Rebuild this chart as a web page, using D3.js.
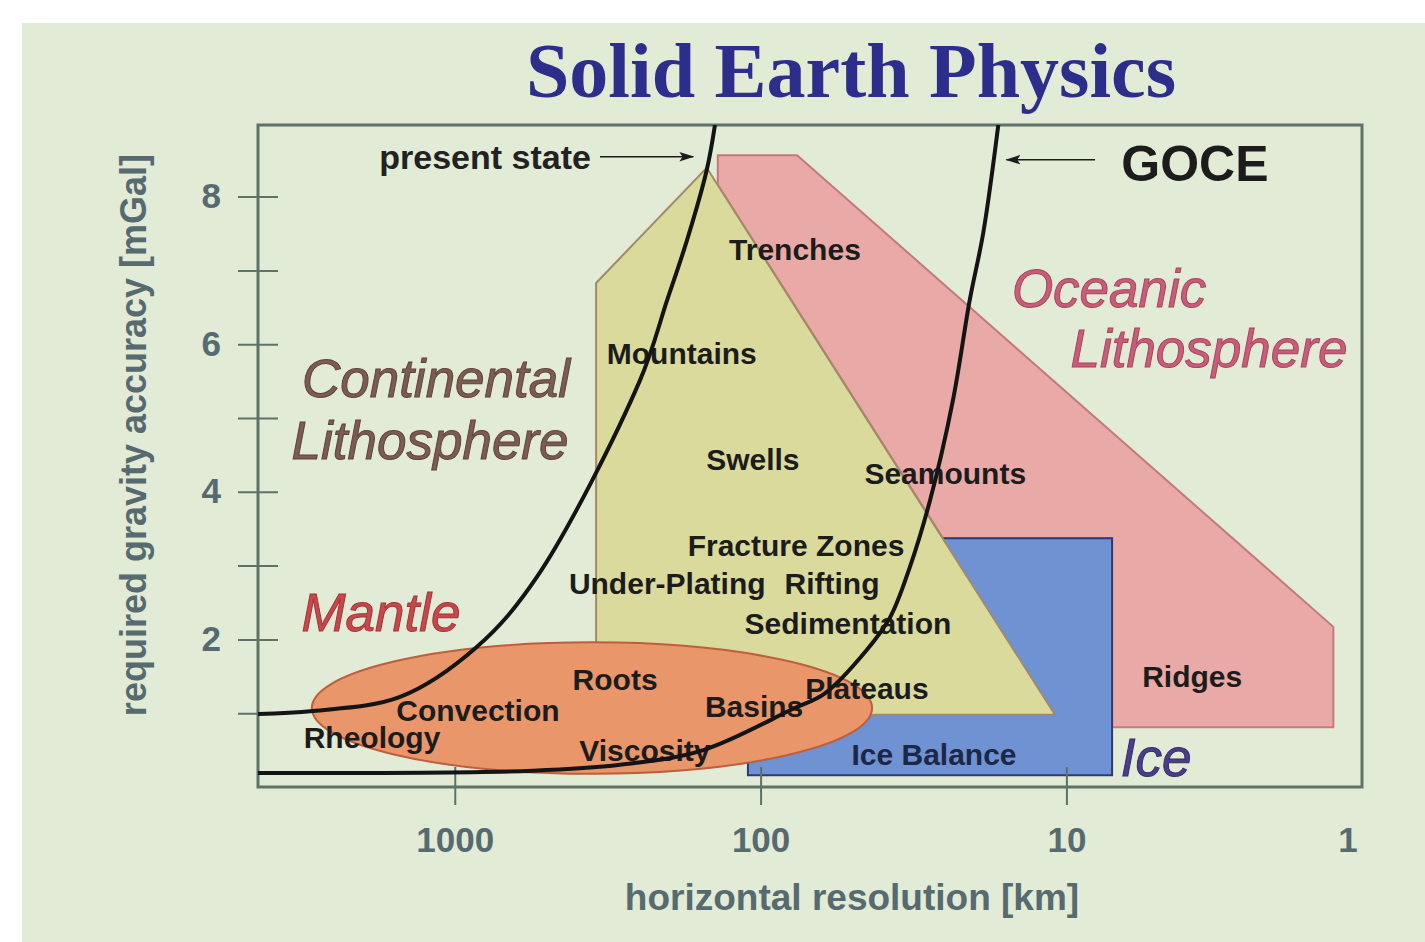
<!DOCTYPE html>
<html>
<head>
<meta charset="utf-8">
<script src="https://cdnjs.cloudflare.com/ajax/libs/d3/7.8.5/d3.min.js"></script>
<style>
  body { margin: 0; background: #fff; }
  text { font-family: 'Liberation Sans', Arial, sans-serif; }
</style>
</head>
<body>
<script>
var width = 1425;
var height = 942;
var margin = {top: 125, right: 63, bottom: 155, left: 258};
var plotW = width - margin.left - margin.right;
var plotH = height - margin.top - margin.bottom;

// axis ticks
var xTicks = [1000, 100, 10];
var xEndLabel = 1;
var yTicks = [1, 2, 3, 4, 5, 6, 7, 8];

// curves: [km, mGal]
var presentState = [[4400, 0.99], [2909, 1.03], [1510, 1.22], [846, 1.90], [538, 2.85],
  [248, 5.51], [202, 6.60], [174, 7.41], [150, 8.36], [141, 8.97]];
var goce = [[4400, 0.19], [555, 0.22], [288, 0.30], [154, 0.50], [78.3, 1.06], [61.6, 1.27],
  [44.9, 1.86], [37.7, 2.30], [32.5, 2.98], [27.9, 3.89], [23.5, 5.24], [20.7, 6.60],
  [18.7, 7.51], [16.7, 8.97]];

// regions: [km, mGal]
var oceanic = [[138, 8.56], [76, 8.56], [1.34, 2.17], [1.34, 0.81], [7.09, 0.81],
  [7.09, 3.37], [25.3, 3.37], [138, 8.16]];
var continental = [[345, 6.83], [150, 8.39], [10.9, 0.98], [345, 0.98]];
var ice = [[110, 3.37], [7.09, 3.37], [7.09, 0.16], [110, 0.16]];
var mantleCentre = [356, 1.07];
var mantleRadius = [0.916, 0.89]; // decades of km, mGal

// arrows
var presentArrow = [[335, 8.54], [166, 8.54]];
var goceArrow = [[8.06, 8.50], [15.7, 8.50]];

var labels = [
  {text: 'present state', km: 796, mgal: 8.54, group: 'present'},
  {text: 'GOCE', km: 3.80, mgal: 8.46, group: 'goce'},
  {text: 'Trenches', km: 77.2, mgal: 7.29, group: 'feature'},
  {text: 'Oceanic', km: 7.25, mgal: 6.76, group: 'oceanic'},
  {text: 'Lithosphere', km: 3.42, mgal: 5.95, group: 'oceanic'},
  {text: 'Continental', km: 1152, mgal: 5.54, group: 'continental'},
  {text: 'Lithosphere', km: 1205, mgal: 4.70, group: 'continental'},
  {text: 'Mountains', km: 181, mgal: 5.88, group: 'feature'},
  {text: 'Swells', km: 106, mgal: 4.44, group: 'feature'},
  {text: 'Seamounts', km: 24.9, mgal: 4.25, group: 'feature'},
  {text: 'Fracture Zones', km: 76.6, mgal: 3.28, group: 'feature'},
  {text: 'Under-Plating', km: 202, mgal: 2.76, group: 'feature'},
  {text: 'Rifting', km: 58.4, mgal: 2.76, group: 'feature'},
  {text: 'Sedimentation', km: 51.8, mgal: 2.22, group: 'feature'},
  {text: 'Mantle', km: 1743, mgal: 2.37, group: 'mantle'},
  {text: 'Roots', km: 299, mgal: 1.46, group: 'feature'},
  {text: 'Convection', km: 840, mgal: 1.04, group: 'feature'},
  {text: 'Rheology', km: 1865, mgal: 0.68, group: 'feature'},
  {text: 'Basins', km: 105, mgal: 1.10, group: 'feature'},
  {text: 'Plateaus', km: 44.9, mgal: 1.34, group: 'feature'},
  {text: 'Viscosity', km: 239, mgal: 0.50, group: 'feature'},
  {text: 'Ice Balance', km: 27.1, mgal: 0.45, group: 'iceFeature'},
  {text: 'Ridges', km: 3.88, mgal: 1.50, group: 'feature'},
  {text: 'Ice', km: 5.09, mgal: 0.41, group: 'ice'}
];

var labelStyle = {
  feature:     {size: 30, weight: 'bold', style: 'normal', fill: '#1c1c1c'},
  iceFeature:  {size: 30, weight: 'bold', style: 'normal', fill: '#1d2746'},
  present:     {size: 34, weight: 'bold', style: 'normal', fill: '#222'},
  goce:        {size: 50, weight: 'bold', style: 'normal', fill: '#1c1c1c'},
  oceanic:     {size: 53, weight: 'normal', style: 'italic', fill: '#c95d79', stroke: '#a8445e'},
  continental: {size: 53, weight: 'normal', style: 'italic', fill: '#7b5b52', stroke: '#5e433c'},
  mantle:      {size: 53, weight: 'normal', style: 'italic', fill: '#c6484b', stroke: '#a33336'},
  ice:         {size: 53, weight: 'normal', style: 'italic', fill: '#4b3e88', stroke: '#372c6c'}
};

var axisColor = '#5e7268';
var axisText = '#566a70';

var svg = d3.select('body').append('svg')
  .attr('width', width)
  .attr('height', height);

// Background
svg.append('rect').attr('width', width).attr('height', height).style('fill', '#fff');
svg.append('rect')
  .attr('x', 22).attr('y', 23)
  .attr('width', width - 22).attr('height', height - 23)
  .style('fill', '#e1ebd5');

var defs = svg.append('defs');
defs.append('clipPath').attr('id', 'plot-clip')
  .append('rect').attr('width', plotW).attr('height', plotH);
defs.append('marker')
  .attr('id', 'arrow')
  .attr('viewBox', '0 0 14 10')
  .attr('refX', 13).attr('refY', 5)
  .attr('markerWidth', 15).attr('markerHeight', 11)
  .attr('markerUnits', 'userSpaceOnUse')
  .attr('orient', 'auto')
  .append('path')
  .attr('d', 'M0,0.5 L14,5 L0,9.5 L3,5 Z')
  .style('fill', '#1c1c1c');

var x = d3.scaleLog().domain([4400, 1.08]).range([0, plotW]);
var y = d3.scaleLinear().domain([0, 8.97]).range([plotH, 0]);

var g = svg.append('g')
  .attr('transform', 'translate(' + margin.left + ',' + margin.top + ')');

var line = d3.line()
  .x(function(d) { return x(d[0]); })
  .y(function(d) { return y(d[1]); });

var shapes = g.append('g').attr('clip-path', 'url(#plot-clip)');

shapes.append('path')
  .attr('d', line(oceanic) + 'Z')
  .style('fill', '#e9a9a6')
  .style('stroke', '#c47a7c')
  .style('stroke-width', 2);

shapes.append('path')
  .attr('d', line(ice) + 'Z')
  .style('fill', '#6e92d2')
  .style('stroke', '#2d3a78')
  .style('stroke-width', 2);

shapes.append('path')
  .attr('d', line(continental) + 'Z')
  .style('fill', '#d9da9c')
  .style('stroke', '#a08a6a')
  .style('stroke-width', 2);

var mcx = x(mantleCentre[0]);
var mcy = y(mantleCentre[1]);
shapes.append('ellipse')
  .attr('cx', mcx)
  .attr('cy', mcy)
  .attr('rx', x(mantleCentre[0] / Math.pow(10, mantleRadius[0])) - mcx)
  .attr('ry', y(0) - y(mantleRadius[1]))
  .style('fill', '#e8966a')
  .style('stroke', '#bd5e3c')
  .style('stroke-width', 2);

// Frame
g.append('rect')
  .attr('width', plotW).attr('height', plotH)
  .style('fill', 'none')
  .style('stroke', axisColor)
  .style('stroke-width', 3);

// Axes
var xAxis = d3.axisBottom(x)
  .tickValues(xTicks)
  .tickFormat(d3.format('d'))
  .tickSize(18)
  .tickPadding(22);
var gx = g.append('g')
  .attr('transform', 'translate(0,' + plotH + ')')
  .call(xAxis);
gx.select('.domain').remove();
gx.selectAll('.tick line').attr('y1', -20).style('stroke', axisColor).style('stroke-width', 2);
gx.selectAll('.tick text')
  .style('font-family', "'Liberation Sans', Arial, sans-serif")
  .style('font-size', '35px').style('font-weight', 'bold').style('fill', axisText);
gx.append('text')
  .attr('x', Math.min(x(xEndLabel), plotW) - 14)
  .attr('y', 40)
  .attr('dy', '0.71em')
  .attr('text-anchor', 'middle')
  .style('font-size', '35px').style('font-weight', 'bold').style('fill', axisText)
  .text(xEndLabel);

var yAxis = d3.axisLeft(y)
  .tickValues(yTicks)
  .tickFormat(function(d) { return d % 2 === 0 ? d : ''; })
  .tickSize(20)
  .tickPadding(17);
var gy = g.append('g').call(yAxis);
gy.select('.domain').remove();
gy.selectAll('.tick line').attr('x1', 20).style('stroke', axisColor).style('stroke-width', 2);
gy.selectAll('.tick text')
  .style('font-family', "'Liberation Sans', Arial, sans-serif")
  .style('font-size', '35px').style('font-weight', 'bold').style('fill', axisText);

// Labels
g.selectAll('.label').data(labels).enter()
  .append('text')
  .attr('class', 'label')
  .attr('x', function(d) { return x(d.km); })
  .attr('y', function(d) { return y(d.mgal); })
  .attr('dy', '0.36em')
  .attr('text-anchor', 'middle')
  .style('font-size', function(d) { return labelStyle[d.group].size + 'px'; })
  .style('font-weight', function(d) { return labelStyle[d.group].weight; })
  .style('font-style', function(d) { return labelStyle[d.group].style; })
  .style('fill', function(d) { return labelStyle[d.group].fill; })
  .style('stroke', function(d) { return labelStyle[d.group].stroke || 'none'; })
  .style('stroke-width', 1)
  .text(function(d) { return d.text; });

// Arrows
[presentArrow, goceArrow].forEach(function(a) {
  g.append('path')
    .attr('d', line(a))
    .style('fill', 'none')
    .style('stroke', '#1c1c1c')
    .style('stroke-width', 1.5)
    .attr('marker-end', 'url(#arrow)');
});

// Resolution curves
var curve = d3.line()
  .x(function(d) { return x(d[0]); })
  .y(function(d) { return y(d[1]); })
  .curve(d3.curveCatmullRom.alpha(0.5));

g.append('g').attr('clip-path', 'url(#plot-clip)')
  .selectAll('path').data([presentState, goce]).enter()
  .append('path')
  .attr('d', curve)
  .style('fill', 'none')
  .style('stroke', '#141414')
  .style('stroke-width', 4);

// Titles
svg.append('text')
  .attr('x', 851).attr('y', 97)
  .attr('text-anchor', 'middle')
  .style('font-family', "'Liberation Serif', 'Times New Roman', serif")
  .style('font-size', '78px').style('font-weight', 'bold').style('fill', '#2d2d8c')
  .text('Solid Earth Physics');

svg.append('text')
  .attr('x', margin.left + plotW / 2 + 42).attr('y', 910)
  .attr('text-anchor', 'middle')
  .style('font-size', '37px').style('font-weight', 'bold').style('fill', axisText)
  .text('horizontal resolution [km]');

svg.append('text')
  .attr('transform', 'translate(146,' + (margin.top + 310) + ') rotate(-90)')
  .attr('text-anchor', 'middle')
  .style('font-size', '36px').style('font-weight', 'bold').style('fill', axisText)
  .text('required gravity accuracy [mGal]');
</script>
</body>
</html>
